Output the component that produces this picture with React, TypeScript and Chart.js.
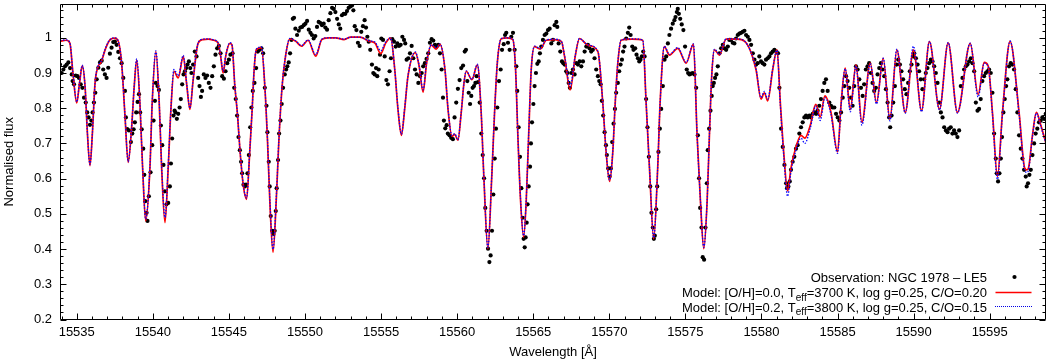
import React, { useEffect, useRef } from "react";
import { Chart, registerables } from "chart.js";
Chart.register(...registerables);

const FONT = '"Liberation Sans", Arial, Helvetica, sans-serif';
const X_MIN = 15533.9;
const X_MAX = 15598.7;
const Y_MIN = 0.2;
const Y_MAX = 1.096;

const xTickValues = [15535, 15540, 15545, 15550, 15555, 15560, 15565, 15570, 15575, 15580, 15585, 15590, 15595];
const yTickValues = [0.2, 0.3, 0.4, 0.5, 0.6, 0.7, 0.8, 0.9, 1.0];
const xTitle = "Wavelength [Å]";
const yTitle = "Normalised flux";

const legendObs = "Observation: NGC 1978 – LE5";
const legendRed = ["Model: [O/H]=0.0, T", "eff", "=3700 K, log g=0.25, C/O=0.20"];
const legendBlue = ["Model: [O/H]=0.2, T", "eff", "=3800 K, log g=0.25, C/O=0.15"];

// Observation: NGC 1978 – LE5  [wavelength, normalised flux]
const observation: [number, number][] = [
  [15533.90,0.924],[15534.01,0.900],[15534.12,0.910],[15534.23,0.919],[15534.34,0.924],[15534.45,0.930],[15534.56,0.914],[15534.67,0.896],[15534.73,0.877],[15534.82,0.868],[15534.93,0.893],[15535.04,0.891],[15535.15,0.886],[15535.26,0.868],[15535.37,0.858],[15535.48,0.830],[15535.59,0.816],[15535.69,0.788],[15535.78,0.774],[15535.87,0.753],[15535.96,0.765],[15536.04,0.788],[15536.13,0.816],[15536.22,0.844],[15536.31,0.882],[15536.42,0.915],[15536.53,0.930],[15536.64,0.935],[15536.74,0.910],[15536.85,0.896],[15536.96,0.886],[15537.07,0.915],[15537.18,0.955],[15537.29,0.972],[15537.40,0.988],[15537.51,0.989],[15537.62,0.980],[15537.73,0.960],
  [15537.84,0.942],[15537.95,0.928],[15538.06,0.886],[15538.17,0.849],[15538.23,0.774],[15538.32,0.741],[15538.43,0.737],[15538.56,0.704],[15538.65,0.728],[15538.74,0.740],[15538.82,0.760],[15538.91,0.788],[15539.00,0.818],[15539.09,0.840],[15539.17,0.788],[15539.27,0.740],[15539.37,0.685],[15539.44,0.611],[15539.50,0.536],[15539.59,0.503],[15539.65,0.480],[15539.74,0.550],[15539.85,0.618],[15539.96,0.695],[15540.05,0.765],[15540.14,0.821],[15540.20,0.872],[15540.31,0.863],[15540.40,0.852],[15540.53,0.751],[15540.62,0.695],[15540.70,0.639],[15540.79,0.564],[15540.90,0.527],[15541.01,0.531],[15541.12,0.578],[15541.19,0.643],[15541.27,0.714],[15541.36,0.779],[15541.43,0.793],[15541.49,0.788],[15541.58,0.770],[15541.67,0.784],[15541.76,0.802],[15541.84,0.826],[15541.93,0.868],[15542.02,0.896],[15542.11,0.905],[15542.19,0.914],[15542.28,0.924],[15542.37,0.933],[15542.46,0.914],[15542.54,0.900],[15542.65,0.924],[15542.76,0.961],[15542.87,0.947],[15542.98,0.886],[15543.07,0.863],[15543.16,0.832],[15543.24,0.849],[15543.35,0.896],[15543.46,0.886],[15543.57,0.893],[15543.68,0.872],[15543.79,0.858],[15543.90,0.891],[15544.01,0.919],[15544.12,0.952],[15544.23,0.970],[15544.34,0.977],[15544.45,0.956],[15544.56,0.891],[15544.67,0.884],[15544.78,0.905],[15544.89,0.928],[15545.00,0.938],[15545.10,0.952],[15545.24,0.956],[15545.35,0.858],[15545.45,0.826],[15545.54,0.779],[15545.63,0.718],[15545.72,0.681],[15545.80,0.648],[15545.87,0.615],[15545.96,0.583],[15546.05,0.578],[15546.13,0.583],[15546.22,0.615],[15546.31,0.667],[15546.40,0.746],[15546.48,0.802],[15546.57,0.849],[15546.68,0.872],[15546.79,0.914],[15546.90,0.961],[15547.01,0.966],[15547.14,0.970],[15547.25,0.956],
  [15547.36,0.858],[15547.47,0.807],[15547.53,0.732],[15547.62,0.648],[15547.68,0.578],[15547.75,0.494],[15547.84,0.452],[15547.93,0.443],[15548.01,0.452],[15548.08,0.508],[15548.14,0.573],[15548.23,0.653],[15548.30,0.728],[15548.39,0.765],[15548.47,0.812],[15548.56,0.858],[15548.67,0.896],[15548.76,0.910],[15548.84,0.919],[15548.93,0.930],[15549.02,0.956],[15549.11,0.994],[15549.20,1.054],[15549.28,1.057],[15549.37,1.026],[15549.48,1.008],[15549.59,1.020],[15549.70,1.029],[15549.81,1.031],[15549.92,1.036],[15550.03,1.040],[15550.14,1.048],[15550.25,1.023],[15550.36,1.014],[15550.46,1.008],[15550.57,0.998],[15550.68,1.005],[15550.79,1.031],[15550.90,1.045],[15551.01,1.042],[15551.12,1.036],[15551.23,1.040],[15551.34,1.029],[15551.45,1.023],[15551.56,1.050],[15551.67,1.070],[15551.78,1.085],[15551.89,1.082],[15552.00,1.073],[15552.11,1.054],[15552.22,1.038],[15552.32,1.026],[15552.43,1.064],[15552.54,1.068],[15552.65,1.068],[15552.76,1.076],[15552.87,1.085],[15552.98,1.089],[15553.09,1.092],[15553.18,1.078],[15553.27,1.033],[15553.38,1.022],[15553.48,0.986],[15553.59,0.977],[15553.70,1.017],[15553.81,1.033],[15553.92,1.050],[15554.01,1.029],[15554.10,1.003],[15554.19,0.989],[15554.29,0.966],[15554.40,0.924],[15554.49,0.900],[15554.58,0.896],[15554.67,0.914],[15554.75,0.891],[15554.84,0.910],[15554.93,0.952],[15555.02,0.998],[15555.13,0.994],[15555.24,0.947],[15555.35,0.880],[15555.45,0.868],[15555.56,0.905],[15555.65,0.942],[15555.74,0.996],[15555.85,0.989],[15555.96,0.975],[15556.07,0.984],[15556.18,0.977],[15556.29,0.980],[15556.40,1.003],[15556.51,0.994],[15556.59,0.984],[15556.68,0.938],[15556.79,0.942],[15556.90,0.956],[15557.01,0.977],[15557.12,0.942],[15557.23,0.910],[15557.34,0.896],[15557.45,0.872],[15557.56,0.891],[15557.67,0.900],[15557.77,0.919],[15557.88,0.928],[15557.99,0.940],[15558.10,0.956],[15558.21,0.986],[15558.32,0.996],[15558.43,0.992],[15558.54,0.980],[15558.65,0.975],[15558.76,0.980],[15558.87,0.956],[15558.98,0.910],[15559.07,0.830],[15559.13,0.765],[15559.22,0.743],[15559.31,0.752],[15559.39,0.728],[15559.50,0.723],[15559.61,0.716],[15559.72,0.712],[15559.83,0.774],[15559.94,0.816],[15560.05,0.855],[15560.16,0.880],[15560.27,0.914],
  [15560.39,0.921],[15560.50,0.961],[15560.58,0.966],[15560.67,0.877],[15560.76,0.844],[15560.85,0.812],[15560.93,0.835],[15561.02,0.858],[15561.11,0.863],[15561.20,0.872],[15561.28,0.891],[15561.37,0.874],[15561.48,0.816],[15561.59,0.728],[15561.68,0.667],[15561.77,0.601],[15561.85,0.517],[15561.94,0.452],[15562.03,0.401],[15562.12,0.363],[15562.20,0.382],[15562.29,0.452],[15562.38,0.555],[15562.47,0.657],[15562.55,0.742],[15562.64,0.802],[15562.75,0.877],[15562.86,0.910],[15562.95,0.966],[15563.06,0.982],[15563.15,1.008],[15563.23,1.014],[15563.34,0.986],[15563.45,0.966],[15563.56,1.003],[15563.67,1.014],[15563.78,0.966],[15563.89,0.919],[15563.95,0.849],[15564.04,0.746],[15564.13,0.662],[15564.22,0.573],[15564.31,0.489],[15564.37,0.429],[15564.44,0.405],[15564.50,0.433],[15564.57,0.475],[15564.63,0.527],[15564.70,0.578],[15564.79,0.634],[15564.85,0.700],[15564.92,0.760],[15565.01,0.812],[15565.09,0.863],[15565.18,0.900],[15565.27,0.926],[15565.36,0.933],[15565.44,0.956],[15565.53,0.975],[15565.64,0.994],[15565.75,1.008],[15565.86,1.012],[15565.97,1.022],[15566.08,1.026],[15566.19,0.984],[15566.30,0.994],[15566.41,1.036],[15566.52,1.045],[15566.58,1.031],[15566.67,0.984],[15566.78,0.961],[15566.89,0.933],[15566.98,0.928],[15567.06,0.924],[15567.17,0.905],[15567.24,0.900],[15567.33,0.872],[15567.41,0.858],[15567.50,0.900],[15567.61,0.910],[15567.72,0.896],[15567.83,0.928],[15567.94,0.924],[15568.05,0.933],[15568.16,0.919],[15568.27,0.933],[15568.38,0.961],[15568.49,0.975],[15568.59,0.980],[15568.70,0.970],[15568.81,0.961],[15568.92,0.966],[15569.03,0.942],[15569.14,0.910],[15569.25,0.891],[15569.34,0.877],[15569.43,0.868],[15569.51,0.821],[15569.60,0.779],[15569.69,0.732],[15569.78,0.695],[15569.84,0.667],[15569.93,0.629],[15570.02,0.606],[15570.10,0.629],[15570.19,0.704],[15570.28,0.756],[15570.37,0.798],[15570.45,0.844],[15570.56,0.872],[15570.65,0.905],[15570.74,0.924],[15570.83,0.938],[15570.91,0.961],[15571.00,0.975],[15571.11,0.998],[15571.22,1.014],[15571.31,1.029],[15571.40,1.008],[15571.51,0.975],[15571.59,0.966],[15571.70,0.970],[15571.79,0.952],[15571.88,0.942],[15571.97,0.933],[15572.05,0.938],[15572.14,0.947],[15572.23,0.961],[15572.32,0.947],[15572.42,0.826],[15572.51,0.746],[15572.60,0.662],[15572.69,0.578],[15572.77,0.503],[15572.86,0.461],[15572.93,0.429],[15572.99,0.438],[15573.08,0.513],[15573.15,0.578],[15573.23,0.676],[15573.32,0.742],[15573.41,0.798],[15573.52,0.863],
  [15573.63,0.938],[15573.74,0.947],[15573.85,0.984],[15573.95,1.008],[15574.06,1.026],[15574.17,1.040],[15574.28,1.050],[15574.35,1.059],[15574.44,1.073],[15574.50,1.082],[15574.57,1.068],[15574.66,1.054],[15574.76,1.038],[15574.87,1.022],[15574.98,0.975],[15575.09,0.910],[15575.18,0.900],[15575.27,0.896],[15575.38,0.898],[15575.49,0.900],[15575.60,0.896],[15575.71,0.858],[15575.82,0.723],[15575.90,0.601],[15575.97,0.517],[15576.06,0.461],[15576.14,0.377],[15576.23,0.370],[15576.32,0.461],[15576.41,0.587],[15576.47,0.681],[15576.56,0.742],[15576.65,0.793],[15576.73,0.835],[15576.80,0.863],[15576.87,0.872],[15576.95,0.886],[15577.04,0.896],[15577.13,0.919],[15577.24,0.956],[15577.35,0.970],[15577.46,0.980],[15577.57,0.970],[15577.68,0.966],[15577.79,0.975],[15577.89,0.994],[15578.00,0.994],[15578.11,0.986],[15578.22,0.984],[15578.33,0.998],[15578.44,1.008],[15578.55,1.012],[15578.66,1.014],[15578.77,1.017],[15578.88,1.020],[15578.99,1.008],[15579.10,1.003],[15579.21,0.994],[15579.32,0.980],[15579.43,0.956],[15579.54,0.938],[15579.65,0.924],[15579.75,0.928],[15579.86,0.947],[15579.97,0.933],[15580.08,0.928],[15580.19,0.924],[15580.30,0.938],[15580.41,0.942],[15580.52,0.947],[15580.63,0.956],[15580.74,0.961],[15580.85,0.966],[15580.98,0.961],[15581.09,0.956],[15581.18,0.858],[15581.29,0.742],[15581.40,0.690],[15581.51,0.639],[15581.62,0.587],[15581.68,0.573],[15581.77,0.578],[15581.86,0.592],[15581.94,0.625],[15582.05,0.648],[15582.16,0.662],[15582.27,0.685],[15582.38,0.695],[15582.49,0.728],[15582.60,0.746],[15582.71,0.760],[15582.82,0.774],[15582.93,0.779],[15583.04,0.774],[15583.15,0.779],[15583.26,0.774],[15583.37,0.784],[15583.48,0.788],[15583.59,0.784],[15583.69,0.793],[15583.80,0.807],[15583.91,0.826],[15584.02,0.849],[15584.13,0.872],[15584.24,0.882],[15584.35,0.849],[15584.46,0.816],[15584.57,0.807],[15584.68,0.802],[15584.79,0.802],[15584.90,0.784],[15585.01,0.774],[15585.12,0.765],[15585.23,0.788],[15585.34,0.830],[15585.45,0.863],[15585.56,0.891],[15585.66,0.877],[15585.77,0.858],[15585.88,0.830],[15585.99,0.807],[15586.10,0.863],[15586.21,0.919],[15586.32,0.910],[15586.43,0.882],[15586.54,0.858],[15586.65,0.835],
  [15586.75,0.868],[15586.86,0.910],[15586.97,0.919],[15587.08,0.928],[15587.19,0.900],[15587.30,0.872],[15587.41,0.849],[15587.52,0.858],[15587.63,0.896],[15587.74,0.914],[15587.85,0.928],[15587.96,0.910],[15588.07,0.891],[15588.18,0.854],[15588.29,0.816],[15588.39,0.774],[15588.46,0.746],[15588.55,0.779],[15588.66,0.816],[15588.77,0.863],[15588.88,0.924],[15588.99,0.938],[15589.10,0.924],[15589.20,0.905],[15589.31,0.882],[15589.42,0.854],[15589.53,0.840],[15589.64,0.872],[15589.75,0.905],[15589.86,0.924],[15589.97,0.947],[15590.04,0.956],[15590.15,0.942],[15590.26,0.924],[15590.36,0.905],[15590.47,0.882],[15590.58,0.854],[15590.69,0.882],[15590.80,0.900],[15590.91,0.914],[15591.02,0.928],[15591.13,0.938],[15591.24,0.933],[15591.35,0.919],[15591.46,0.900],[15591.57,0.872],[15591.68,0.816],[15591.79,0.788],[15591.90,0.774],[15592.01,0.746],[15592.12,0.737],[15592.23,0.732],[15592.33,0.742],[15592.44,0.746],[15592.55,0.728],[15592.66,0.737],[15592.77,0.728],[15592.88,0.718],[15592.99,0.737],[15593.10,0.863],[15593.21,0.886],[15593.32,0.910],[15593.43,0.919],[15593.54,0.924],[15593.65,0.933],[15593.76,0.942],[15593.87,0.928],[15593.98,0.905],[15594.09,0.816],[15594.20,0.793],[15594.30,0.798],[15594.41,0.826],[15594.52,0.877],[15594.63,0.891],[15594.74,0.900],[15594.85,0.905],[15594.96,0.910],[15595.07,0.900],[15595.18,0.844],[15595.29,0.728],[15595.40,0.657],[15595.46,0.615],[15595.55,0.592],[15595.64,0.615],[15595.73,0.657],[15595.81,0.718],[15595.90,0.788],[15595.99,0.826],[15596.08,0.863],[15596.16,0.882],[15596.27,0.919],[15596.38,0.928],[15596.49,0.924],[15596.60,0.910],[15596.71,0.854],[15596.82,0.788],[15596.93,0.723],[15597.04,0.685],[15597.15,0.657],[15597.26,0.625],[15597.37,0.606],[15597.43,0.578],[15597.52,0.587],[15597.61,0.611],[15597.70,0.625],[15597.81,0.667],[15597.92,0.700],[15598.02,0.728],[15598.13,0.742],[15598.24,0.760],[15598.35,0.765],[15598.46,0.774],[15598.57,0.770],[15598.68,0.784],
];

// Model: [O/H]=0.0, Teff=3700 K, log g=0.25, C/O=0.20
const modelRed: [number, number][] = [
  [15533.9,0.990],[15534.3,0.993],[15534.55,0.985],[15534.75,0.90],[15535.0,0.815],[15535.18,0.87],[15535.36,0.92],[15535.55,0.86],[15535.7,0.73],[15535.87,0.637],[15536.03,0.73],[15536.2,0.87],[15536.4,0.918],[15536.6,0.93],[15536.9,0.97],[15537.2,0.995],[15537.5,0.999],[15537.73,0.99],[15537.95,0.928],[15538.17,0.779],[15538.38,0.646],[15538.6,0.741],[15538.78,0.863],[15538.94,0.937],[15539.15,0.816],[15539.33,0.63],[15539.53,0.48],[15539.81,0.63],[15539.96,0.816],[15540.2,0.961],[15540.42,0.816],[15540.58,0.63],[15540.8,0.475],[15541.01,0.63],[15541.19,0.797],[15541.39,0.905],[15541.67,0.886],[15542.0,0.947],[15542.22,0.87],[15542.44,0.797],[15542.65,0.88],[15542.98,0.985],[15543.3,0.995],[15543.64,0.996],[15544.0,0.993],[15544.29,0.985],[15544.45,0.95],[15544.62,0.90],[15544.8,0.95],[15545.06,0.984],[15545.2,0.98],[15545.39,0.863],[15545.57,0.779],[15545.72,0.685],[15545.94,0.583],[15546.16,0.541],[15546.37,0.676],[15546.53,0.797],[15546.66,0.91],[15546.8,0.966],[15547.14,0.972],
  [15547.36,0.863],[15547.54,0.704],[15547.69,0.536],[15547.9,0.391],[15548.13,0.555],[15548.28,0.704],[15548.5,0.863],[15548.72,0.947],[15549.0,0.997],[15549.4,0.99],[15549.77,0.976],[15550.2,0.993],[15550.71,0.948],[15551.1,0.995],[15551.5,1.0],[15552.0,1.0],[15552.57,0.995],[15553.0,1.002],[15553.6,1.002],[15554.25,0.99],[15554.6,0.985],[15554.98,0.955],[15555.3,0.985],[15555.63,1.0],[15555.9,0.91],[15556.11,0.797],[15556.34,0.723],[15556.55,0.797],[15556.77,0.891],[15557.25,0.958],[15557.5,0.92],[15557.76,0.846],[15558.0,0.93],[15558.3,0.979],[15558.63,0.968],[15558.87,0.982],[15559.2,0.91],[15559.4,0.797],[15559.66,0.72],[15559.84,0.726],[15560.05,0.709],[15560.27,0.788],[15560.45,0.872],[15560.6,0.905],[15560.97,0.881],[15561.33,0.923],[15561.58,0.788],[15561.75,0.61],[15562.02,0.401],[15562.28,0.61],[15562.46,0.788],[15562.64,0.928],[15562.9,0.997],[15563.3,1.0],[15563.66,0.995],[15563.84,0.91],[15563.99,0.723],[15564.17,0.536],[15564.37,0.434],[15564.54,0.536],[15564.7,0.723],[15564.87,0.91],[15565.09,0.975],[15565.46,0.968],[15565.86,0.993],[15566.4,0.995],[15566.85,0.99],[15567.06,0.947],[15567.43,0.852],[15567.76,0.947],[15568.04,0.998],[15568.59,0.979],[15569.25,0.961],[15569.57,0.816],[15569.79,0.676],[15570.02,0.592],[15570.23,0.676],[15570.39,0.816],[15570.56,0.928],[15570.78,0.993],[15571.5,0.996],[15572.2,0.993],[15572.42,0.816],[15572.64,0.63],[15572.92,0.429],[15573.18,0.63],[15573.34,0.816],[15573.62,0.975],
  [15573.95,0.951],[15574.5,0.97],[15575.05,0.928],[15575.53,0.982],[15575.77,0.723],[15575.99,0.536],[15576.21,0.401],[15576.43,0.536],[15576.58,0.723],[15576.73,0.891],[15576.91,0.966],[15577.24,0.951],[15577.68,0.996],[15578.4,0.996],[15578.9,0.99],[15579.64,0.91],[15579.97,0.826],[15580.19,0.844],[15580.41,0.821],[15580.74,0.91],[15581.02,0.966],[15581.24,0.816],[15581.46,0.676],[15581.72,0.565],[15581.94,0.63],[15582.18,0.676],[15582.6,0.723],[15582.85,0.715],[15583.2,0.75],[15583.57,0.811],[15583.86,0.775],[15584.17,0.835],[15584.57,0.788],[15585.0,0.676],[15585.24,0.816],[15585.5,0.914],[15585.84,0.797],[15586.21,0.923],[15586.6,0.76],[15587.15,0.928],[15587.56,0.816],[15588.0,0.942],[15588.44,0.769],[15588.9,0.966],[15589.45,0.788],[15589.99,0.966],[15590.52,0.793],[15591.04,0.989],[15591.7,0.797],[15592.27,0.986],[15592.88,0.788],[15593.72,0.984],[15594.24,0.839],[15594.64,0.930],[15594.9,0.92],[15595.18,0.788],[15595.51,0.606],[15595.84,0.788],[15596.34,0.99],[15596.93,0.788],[15597.3,0.63],[15597.44,0.625],[15597.55,0.63],[15597.81,0.723],[15598.07,0.788],[15598.35,0.753],[15598.7,0.70],
];

// Model: [O/H]=0.2, Teff=3800 K, log g=0.25, C/O=0.15
const modelBlue: [number, number][] = [
  [15533.9,0.992],[15534.3,0.994],[15534.55,0.986],[15534.75,0.90],[15535.0,0.818],[15535.18,0.872],[15535.36,0.922],[15535.55,0.86],[15535.7,0.73],[15535.87,0.64],[15536.03,0.73],[15536.2,0.87],[15536.4,0.92],[15536.6,0.932],[15536.9,0.972],[15537.2,0.996],[15537.5,1.0],[15537.73,0.99],[15537.95,0.93],[15538.17,0.78],[15538.38,0.648],[15538.6,0.742],[15538.78,0.865],[15538.94,0.94],[15539.15,0.818],[15539.33,0.632],[15539.53,0.485],[15539.81,0.632],[15539.96,0.818],[15540.2,0.963],[15540.42,0.818],[15540.58,0.636],[15540.8,0.49],[15541.01,0.636],[15541.19,0.80],[15541.39,0.91],[15541.67,0.892],[15542.0,0.95],[15542.22,0.872],[15542.44,0.80],[15542.65,0.882],[15542.98,0.986],[15543.3,0.996],[15543.64,0.997],[15544.0,0.994],[15544.29,0.986],[15544.45,0.952],[15544.62,0.905],[15544.8,0.952],[15545.06,0.986],[15545.2,0.981],[15545.39,0.865],[15545.57,0.78],[15545.72,0.686],[15545.94,0.585],[15546.16,0.545],[15546.37,0.678],[15546.53,0.80],[15546.66,0.912],[15546.8,0.968],[15547.14,0.974],
  [15547.36,0.865],[15547.54,0.708],[15547.69,0.542],[15547.9,0.40],[15548.13,0.56],[15548.28,0.708],[15548.5,0.865],[15548.72,0.948],[15549.0,0.998],[15549.4,0.991],[15549.77,0.978],[15550.2,0.994],[15550.71,0.952],[15551.1,0.996],[15551.5,1.0],[15552.0,1.0],[15552.57,0.996],[15553.0,1.002],[15553.6,1.002],[15554.25,0.991],[15554.6,0.988],[15554.98,0.963],[15555.3,0.988],[15555.63,1.0],[15555.9,0.91],[15556.11,0.80],[15556.34,0.726],[15556.55,0.80],[15556.77,0.892],[15557.25,0.96],[15557.5,0.922],[15557.76,0.852],[15558.0,0.932],[15558.3,0.98],[15558.63,0.972],[15558.87,0.983],[15559.2,0.91],[15559.4,0.80],[15559.66,0.722],[15559.84,0.728],[15560.05,0.71],[15560.27,0.79],[15560.45,0.872],[15560.6,0.906],[15560.97,0.882],[15561.33,0.925],[15561.58,0.79],[15561.75,0.612],[15562.02,0.405],[15562.28,0.612],[15562.46,0.79],[15562.64,0.93],[15562.9,0.998],[15563.3,1.0],[15563.66,0.996],[15563.84,0.91],[15563.99,0.725],[15564.17,0.54],[15564.37,0.438],[15564.54,0.54],[15564.7,0.725],[15564.87,0.91],[15565.09,0.976],[15565.46,0.97],[15565.86,0.994],[15566.4,0.996],[15566.85,0.99],[15567.06,0.95],[15567.43,0.862],[15567.76,0.95],[15568.04,0.998],[15568.59,0.98],[15569.25,0.962],[15569.57,0.816],[15569.79,0.678],[15570.02,0.596],[15570.23,0.678],[15570.39,0.816],[15570.56,0.93],[15570.78,0.994],[15571.5,0.997],[15572.2,0.994],[15572.42,0.816],[15572.64,0.632],[15572.92,0.432],[15573.18,0.632],[15573.34,0.816],[15573.62,0.976],
  [15573.95,0.953],[15574.5,0.972],[15575.05,0.93],[15575.53,0.983],[15575.77,0.724],[15575.99,0.538],[15576.21,0.405],[15576.43,0.538],[15576.58,0.724],[15576.73,0.892],[15576.91,0.968],[15577.24,0.953],[15577.68,0.997],[15578.4,0.997],[15578.9,0.99],[15579.64,0.912],[15579.97,0.83],[15580.19,0.848],[15580.41,0.826],[15580.74,0.912],[15581.02,0.965],[15581.24,0.81],[15581.46,0.668],[15581.72,0.55],[15581.94,0.62],[15582.18,0.668],[15582.6,0.715],[15582.85,0.70],[15583.2,0.742],[15583.57,0.806],[15583.86,0.765],[15584.17,0.83],[15584.57,0.782],[15585.0,0.672],[15585.24,0.812],[15585.5,0.912],[15585.84,0.79],[15586.21,0.92],[15586.6,0.752],[15587.15,0.926],[15587.56,0.812],[15588.0,0.942],[15588.44,0.764],[15588.9,0.968],[15589.45,0.786],[15589.99,0.976],[15590.52,0.79],[15591.04,0.99],[15591.7,0.795],[15592.27,0.987],[15592.88,0.786],[15593.72,0.985],[15594.24,0.832],[15594.64,0.928],[15594.9,0.918],[15595.18,0.784],[15595.51,0.598],[15595.84,0.784],[15596.34,0.991],[15596.93,0.784],[15597.3,0.624],[15597.44,0.618],[15597.55,0.624],[15597.81,0.72],[15598.07,0.786],[15598.35,0.75],[15598.7,0.698],
];

function drawRow(ctx: CanvasRenderingContext2D, parts: string[], rightX: number, baseY: number) {
  const main = `13px ${FONT}`;
  const sub = `10px ${FONT}`;
  const widths = parts.map((p, i) => {
    ctx.font = i === 1 ? sub : main;
    return ctx.measureText(p).width;
  });
  const total = widths.reduce((a, b) => a + b, 0);
  let x = rightX - total;
  parts.forEach((p, i) => {
    ctx.font = i === 1 ? sub : main;
    ctx.fillText(p, x, i === 1 ? baseY + 3.5 : baseY);
    x += widths[i];
  });
}

const framePlugin = {
  id: "frameAndLegend",
  afterDraw(chart: any) {
    const { ctx, chartArea: a, scales } = chart;
    const xs = scales.x;
    const ys = scales.y;
    ctx.save();
    ctx.strokeStyle = "#000";
    ctx.lineWidth = 1;
    const L = Math.round(a.left) + 0.5;
    const R = Math.round(a.right) - 0.5;
    const T = Math.round(a.top) + 0.5;
    const B = Math.round(a.bottom) - 0.5;
    ctx.beginPath();
    ctx.rect(L, T, R - L, B - T);
    for (let w = Math.ceil(X_MIN); w <= X_MAX; w += 1) {
      const len = xTickValues.includes(w) ? 6 : 3;
      const px = Math.round(xs.getPixelForValue(w)) + 0.5;
      ctx.moveTo(px, B); ctx.lineTo(px, B - len);
      ctx.moveTo(px, T); ctx.lineTo(px, T + len);
    }
    for (let i = 0; i < 100; i++) {
      const v = Y_MIN + i * 0.02;
      if (v > Y_MAX + 1e-9) break;
      const major = Math.abs(v * 10 - Math.round(v * 10)) < 1e-6;
      const len = major ? 6 : 3;
      const py = Math.round(ys.getPixelForValue(v)) + 0.5;
      ctx.moveTo(L, py); ctx.lineTo(L + len, py);
      ctx.moveTo(R, py); ctx.lineTo(R - len, py);
    }
    ctx.stroke();

    // legend
    ctx.fillStyle = "#000";
    ctx.textBaseline = "alphabetic";
    ctx.textAlign = "left";
    const rightX = 987;
    drawRow(ctx, [legendObs], rightX, 282);
    drawRow(ctx, legendRed, rightX, 297);
    drawRow(ctx, legendBlue, rightX, 311.5);
    ctx.beginPath();
    ctx.arc(1014.5, 277, 2.1, 0, Math.PI * 2);
    ctx.fill();
    ctx.strokeStyle = "rgb(255,0,0)";
    ctx.lineWidth = 1.5;
    ctx.beginPath();
    ctx.moveTo(995.5, 292.5); ctx.lineTo(1031.5, 292.5);
    ctx.stroke();
    ctx.strokeStyle = "rgb(0,0,230)";
    ctx.lineWidth = 1;
    ctx.setLineDash([1, 1]);
    ctx.beginPath();
    ctx.moveTo(995, 306.5); ctx.lineTo(1032, 306.5);
    ctx.stroke();
    ctx.restore();
  },
};

export default function App() {
  const ref = useRef<HTMLCanvasElement>(null);
  useEffect(() => {
    document.body.style.margin = "0";
    const canvas = ref.current;
    if (!canvas) return;
    const chart = new Chart(canvas, {
      type: "scatter",
      data: {
        datasets: [
          {
            label: legendObs,
            data: observation.map(([x, y]) => ({ x, y })),
            pointRadius: 2.1,
            pointBorderWidth: 0,
            pointBackgroundColor: "#000",
            backgroundColor: "#000",
            borderColor: "#000",
            showLine: false,
            order: 3,
          },
          {
            label: legendRed.join(""),
            data: modelRed.map(([x, y]) => ({ x, y })),
            showLine: true,
            pointRadius: 0,
            borderColor: "rgb(255,0,0)",
            borderWidth: 1.7,
            cubicInterpolationMode: "monotone",
            order: 2,
          },
          {
            label: legendBlue.join(""),
            data: modelBlue.map(([x, y]) => ({ x, y })),
            showLine: true,
            pointRadius: 0,
            borderColor: "rgb(0,0,255)",
            borderWidth: 1.3,
            borderDash: [1.5, 1.5],
            cubicInterpolationMode: "monotone",
            order: 1,
          },
        ] as any,
      },
      options: {
        animation: false,
        responsive: false,
        maintainAspectRatio: false,
        devicePixelRatio: 1,
        layout: { padding: { left: 0, right: 3, top: 0, bottom: 0 } },
        plugins: { legend: { display: false }, tooltip: { enabled: false } },
        scales: {
          x: {
            type: "linear",
            min: X_MIN,
            max: X_MAX,
            grid: { display: false, drawTicks: false },
            border: { display: false },
            afterBuildTicks: (s: any) => { s.ticks = xTickValues.map((v) => ({ value: v })); },
            afterFit: (s: any) => { s.height = 40.5; s.paddingLeft = 0; s.paddingRight = 0; },
            ticks: {
              autoSkip: false,
              maxRotation: 0,
              padding: 5,
              color: "#000",
              font: { family: FONT, size: 13 },
              callback: (v: any) => String(v),
            },
            title: {
              display: true,
              text: xTitle,
              color: "#000",
              font: { family: FONT, size: 13 },
              padding: { top: 0, bottom: 0 },
            },
          },
          y: {
            type: "linear",
            min: Y_MIN,
            max: Y_MAX,
            grid: { display: false, drawTicks: false },
            border: { display: false },
            afterBuildTicks: (s: any) => { s.ticks = yTickValues.map((v) => ({ value: v })); },
            afterFit: (s: any) => { s.width = 60; s.paddingTop = 0; s.paddingBottom = 0; },
            ticks: {
              padding: 8,
              color: "#000",
              font: { family: FONT, size: 13 },
              callback: (v: any) => String(Math.round(Number(v) * 10) / 10),
            },
            title: {
              display: true,
              text: yTitle,
              color: "#000",
              font: { family: FONT, size: 13 },
              padding: { top: 2, bottom: 0 },
            },
          },
        },
      } as any,
      plugins: [framePlugin],
    });
    return () => chart.destroy();
  }, []);
  return (
    <div style={{ width: 1050, height: 360, background: "#fff" }}>
      <canvas ref={ref} width={1050} height={360} style={{ display: "block" }} />
    </div>
  );
}
